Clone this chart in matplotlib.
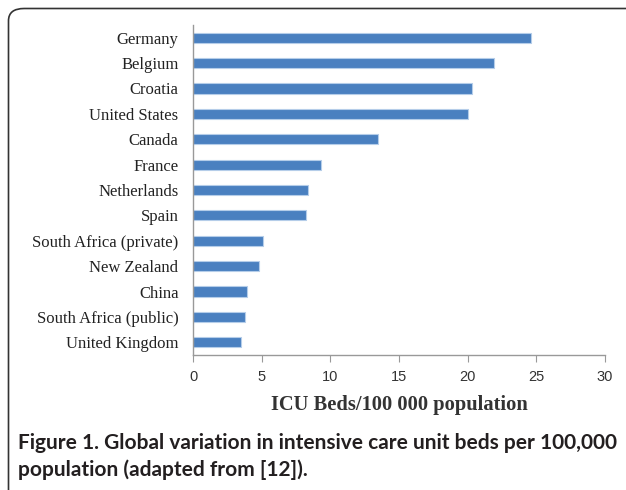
import matplotlib
matplotlib.use('Agg')
import matplotlib.pyplot as plt
from matplotlib.patches import FancyBboxPatch

countries = ['Germany', 'Belgium', 'Croatia', 'United States', 'Canada', 'France',
             'Netherlands', 'Spain', 'South Africa (private)', 'New Zealand', 'China',
             'South Africa (public)', 'United Kingdom']
beds = [24.6, 21.9, 20.3, 20.0, 13.5, 9.3, 8.4, 8.2, 5.1, 4.8, 3.9, 3.8, 3.5]
xticks = [0, 5, 10, 15, 20, 25, 30]

W, H = 626, 490
fig = plt.figure(figsize=(W / 100, H / 100), dpi=100)
ax = fig.add_axes([193 / W, 1 - 355 / H, (605 - 193) / W, (355 - 25) / H])

pos = list(range(len(countries)))
ax.barh(pos, beds, height=0.4, color='#4a80c0', edgecolor='#b5cde9', linewidth=0.8)
ax.set_ylim(12.5, -0.5)
ax.set_xlim(0, 30)
ax.set_yticks(pos)
ax.set_yticklabels(countries, family='Liberation Serif', fontsize=12, color='#222222')
ax.tick_params(axis='y', length=0, pad=10.5)
ax.set_xticks(xticks)
ax.set_xticklabels([str(t) for t in xticks], family='Liberation Sans', fontsize=10.5, color='#333333')
ax.tick_params(axis='x', direction='out', length=5, color='#999999', pad=6)
for s in ['top', 'right']:
    ax.spines[s].set_visible(False)
for s in ['left', 'bottom']:
    ax.spines[s].set_color('#999999')
    ax.spines[s].set_linewidth(1.0)

ax.set_xlabel('ICU Beds/100 000 population', family='Liberation Serif', fontweight='bold',
              fontsize=14.8, color='#333333', labelpad=8)

fig.text(18 / W, 1 - 443 / H, 'Figure 1. Global variation in intensive care unit beds per 100,000',
         family='Lato', fontweight='bold', fontsize=15, color='#231f20', va='center', ha='left')
fig.text(18 / W, 1 - 470 / H, 'population (adapted from [12]).',
         family='Lato', fontweight='bold', fontsize=15, color='#231f20', va='center', ha='left')

# rounded frame running off the right and bottom edges
frame = FancyBboxPatch((8.5 / W, -20 / H), (W + 20) / W, (H - 8.5 + 20) / H,
                       boxstyle='round,pad=0,rounding_size=0.025', transform=fig.transFigure,
                       facecolor='none', edgecolor='#333333', linewidth=1.2, clip_on=False)
fig.patches.append(frame)

fig.savefig('out.png', dpi=100)
